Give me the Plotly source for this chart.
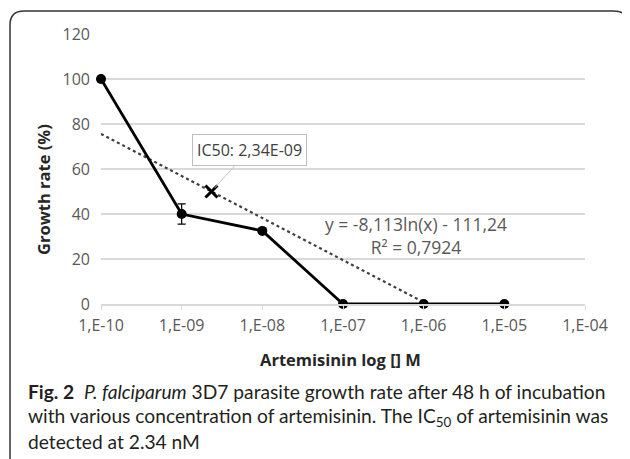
import plotly.graph_objects as go

# ---- data ----
conc = [1e-10, 1e-9, 1e-8, 1e-7, 1e-6, 1e-5]
growth = [100, 40, 32.5, 0, 0, 0]
growth_err = [0, 4.5, 0, 0, 0, 0]
trend_x = [1e-10, 1e-6]
trend_y = [75.6, 0.8]
ic50_x = [2.34e-9]
ic50_y = [50]
tick_vals = [1e-10, 1e-9, 1e-8, 1e-7, 1e-6, 1e-5, 1e-4]
tick_text = ["1,E-10", "1,E-09", "1,E-08", "1,E-07", "1,E-06", "1,E-05", "1,E-04"]

OFF = 8  # page body margin
W, H = 630 - OFF, 459 - OFF
# plot area in screen pixels
SL, SR, ST, SB = 101, 585, 34, 304
L, R, T, B = SL - OFF, SR - OFF, ST - OFF, SB - OFF

def px(x):  # screen px -> paper
    return (x - OFF - L) / (R - L)

def py(y):
    return (B - (y - OFF)) / (B - T)

fig = go.Figure()

fig.add_trace(go.Scatter(
    x=trend_x, y=trend_y, mode="lines",
    line=dict(color="#404040", width=2.2, dash="dot"),
    hoverinfo="skip", cliponaxis=False))

fig.add_trace(go.Scatter(
    x=conc, y=growth, mode="lines+markers",
    line=dict(color="black", width=2.8),
    marker=dict(color="black", size=10),
    error_y=dict(type="data", array=growth_err, color="black", thickness=1.2, width=4),
    cliponaxis=False))

fig.add_trace(go.Scatter(
    x=ic50_x, y=ic50_y, mode="markers",
    marker=dict(symbol="x-thin", size=12, line=dict(color="black", width=3)),
    cliponaxis=False))

FONT = "Open Sans, sans-serif"
tick_font = dict(family=FONT, size=16, color="#595959")

fig.update_xaxes(type="log", range=[-10, -4], tickvals=tick_vals, ticktext=tick_text,
                 showgrid=False, zeroline=False, showline=True, linecolor="#d9d9d9",
                 linewidth=1.5, ticks="outside", ticklen=4, tickcolor="#d9d9d9",
                 ticklabelstandoff=2, tickfont=tick_font)
fig.update_yaxes(range=[0, 120], tickvals=[0, 20, 40, 60, 80, 100, 120],
                 showgrid=True, gridcolor="#d9d9d9", gridwidth=1.5, zeroline=False,
                 showline=False, ticks="", ticklabelstandoff=10, tickfont=tick_font)

annos = []
# IC50 label
annos.append(dict(x=-8.6308, y=50, xref="x", yref="y", text="IC50: 2,34E-09",
                  showarrow=True, arrowhead=0, arrowwidth=1, arrowcolor="#c8c8c8",
                  ax=38, ay=-42, standoff=5, bgcolor="white", bordercolor="#bfbfbf",
                  borderwidth=1, borderpad=4,
                  font=dict(family=FONT, size=16, color="#404040")))
# trend equation
annos.append(dict(x=px(416), y=py(235), xref="paper", yref="paper",
                  xanchor="center", yanchor="middle",
                  text="y = -8,113ln(x) - 111,24<br>R² = 0,7924", showarrow=False,
                  align="center", font=dict(family=FONT, size=17.5, color="#595959")))
# axis titles
annos.append(dict(x=px(44), y=py(190), xref="paper", yref="paper", text="<b>Growth rate (%)</b>",
                  xanchor="center", yanchor="middle", textangle=-90, showarrow=False,
                  font=dict(family=FONT, size=16.5, color="#262626")))
annos.append(dict(x=px(340), y=py(359), xref="paper", yref="paper", text="<b>Artemisinin log [] M</b>",
                  xanchor="center", yanchor="middle", showarrow=False,
                  font=dict(family=FONT, size=16.5, color="#262626")))
# caption
cap_font = dict(family="Lato, sans-serif", size=19.2, color="#231f20")
cap_lines = [
    "<b>Fig. 2</b>  <i>P. falciparum</i> 3D7 parasite growth rate after 48 h of incubation",
    "with various concentration of artemisinin. The IC<sub>50</sub> of artemisinin was",
    "detected at 2.34 nM",
]
for yy, t in zip([391, 417, 441], cap_lines):
    annos.append(dict(x=px(26), y=py(yy), xref="paper", yref="paper", text=t,
                      xanchor="left", yanchor="middle", showarrow=False, font=cap_font))

fig.update_layout(annotations=annos)

# rounded frame (screen px)
fx0, fy0, fx1, r = 10, 11, 628, 14
path = (f"M {px(fx0)},{py(470)} L {px(fx0)},{py(fy0 + r)} "
        f"Q {px(fx0)},{py(fy0)} {px(fx0 + r)},{py(fy0)} "
        f"L {px(fx1 - r)},{py(fy0)} Q {px(fx1)},{py(fy0)} {px(fx1)},{py(fy0 + r)} "
        f"L {px(fx1)},{py(470)}")
fig.add_shape(type="path", path=path, xref="paper", yref="paper",
              line=dict(color="#333333", width=1.5))

fig.update_layout(width=W, height=H, showlegend=False,
                  margin=dict(l=L, r=W - R, t=T, b=H - B),
                  paper_bgcolor="white", plot_bgcolor="white")

fig.write_html("out.html")
